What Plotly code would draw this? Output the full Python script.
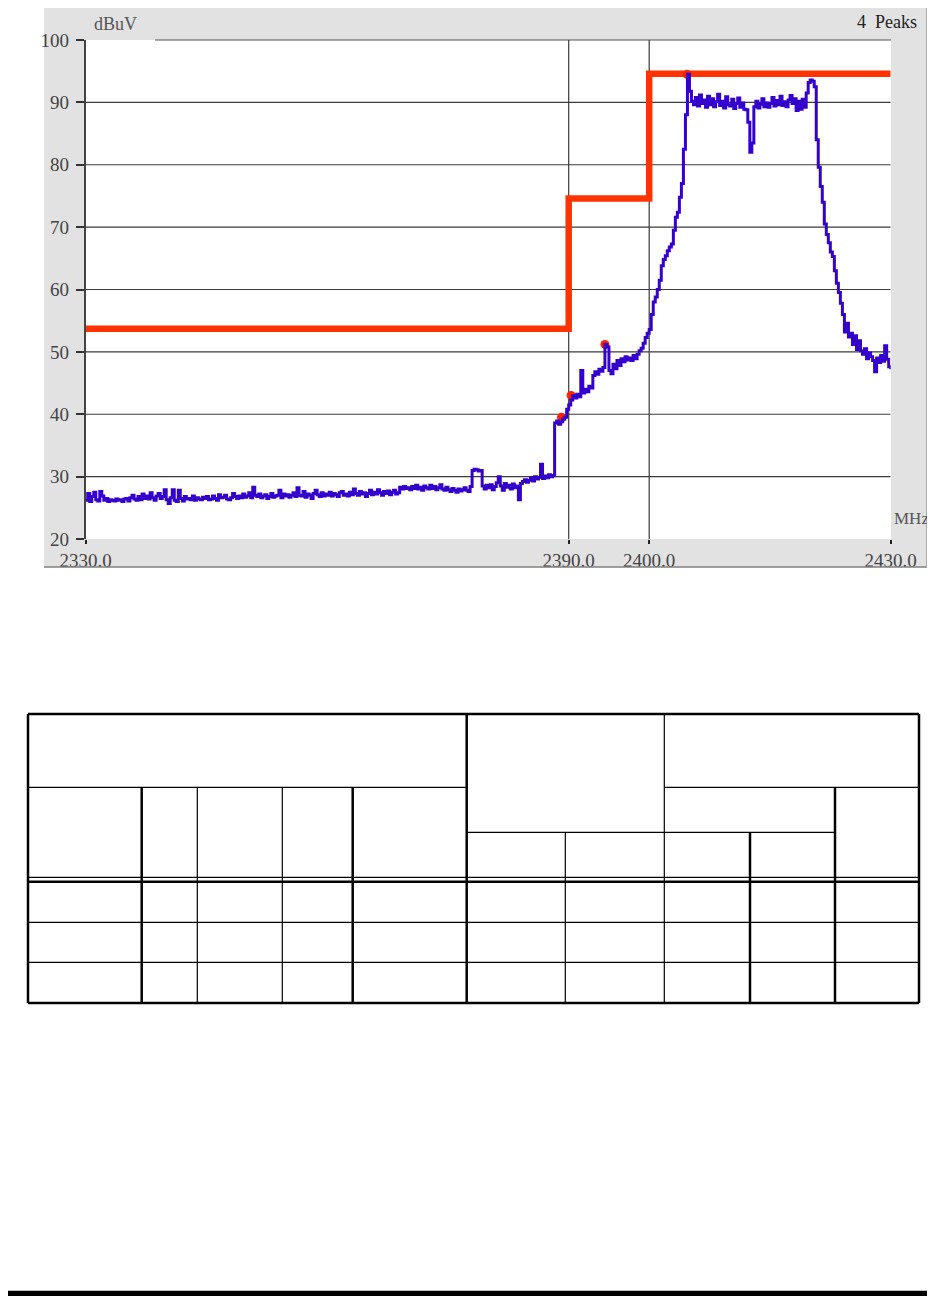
import plotly.graph_objects as go

# ---------------- data ----------------
FREQ_START = 2330.0
FREQ_STEP = 0.25

level_dbuv = [
    # 2330.00 - 2334.75
    26.2, 27.3, 26.0, 26.8, 27.5, 26.3, 26.1, 27.6, 26.9, 26.2, 26.5, 26.0, 26.3, 26.2, 26.1, 26.4, 26.2, 26.3, 26.0, 26.4,
    # 2335
    26.5, 26.1, 26.6, 27.0, 26.4, 26.2, 26.8, 26.3, 27.2, 26.5, 26.9, 26.4, 27.4, 26.6, 26.2, 26.9, 27.3, 26.5, 26.8, 27.9,
    # 2340
    26.3, 25.7, 26.6, 27.9, 26.2, 26.0, 27.8, 26.5, 26.1, 26.8, 26.4, 26.5, 26.3, 26.9, 26.2, 26.6, 26.4, 26.3, 26.7, 26.5,
    # 2345
    26.8, 26.3, 26.4, 26.9, 26.5, 26.2, 27.1, 26.6, 26.7, 27.0, 26.4, 26.3, 26.6, 27.3, 26.8, 26.5, 26.9, 26.6, 27.2, 26.7,
    # 2350
    26.9, 27.4, 26.6, 28.3, 27.0, 26.8, 27.2, 26.6, 26.9, 27.1, 26.5, 26.8, 27.3, 26.7, 26.9, 27.0, 27.8, 26.6, 27.2, 26.9,
    # 2355
    27.1, 26.7, 27.0, 27.4, 26.8, 28.2, 27.0, 26.9, 27.6, 26.7, 27.2, 27.0, 26.5, 27.3, 27.8, 27.1, 26.8, 27.4, 26.9, 27.2,
    # 2360
    27.0, 27.5, 26.9, 27.3, 27.1, 26.8, 27.4, 27.6, 27.0, 27.2, 26.9, 27.5, 27.1, 28.0, 27.3, 27.0, 27.6, 27.2, 27.4, 26.8,
    # 2365
    27.3, 27.8, 27.1, 27.5, 27.2, 27.9, 27.4, 27.0, 27.6, 27.3, 27.7, 27.1, 27.5, 27.8, 27.2, 27.4, 28.3, 28.0, 28.4, 28.1,
    # 2370
    28.2, 27.9, 28.4, 28.1, 28.6, 28.0, 28.3, 27.8, 28.5, 28.2, 28.0, 28.6, 28.1, 28.4, 27.9, 28.2, 28.7, 28.0, 27.8, 28.3,
    # 2375
    27.9, 27.6, 28.1, 27.8, 27.5, 28.0, 27.7, 27.9, 28.2, 27.8, 27.6, 28.4, 31.0, 31.2, 31.1, 30.9, 31.0, 28.5, 28.0, 28.6,
    # 2380
    28.2, 28.7, 27.9, 28.4, 29.0, 30.0, 28.5, 27.8, 28.9, 28.3, 28.6, 28.0, 28.8, 28.2, 28.5, 26.3, 28.9, 29.2, 29.5, 29.1,
    # 2385
    29.4, 29.8, 29.3, 30.0, 29.6, 29.9, 32.0, 29.7, 30.1, 29.8, 30.3, 30.0, 30.2, 38.6, 38.9, 38.4, 38.8, 39.2, 39.5, 40.8,
    # 2390
    41.5, 42.3, 43.0, 42.6, 43.2, 42.8, 47.0, 43.4, 44.0, 43.6, 44.5, 44.2, 46.2, 46.8, 46.4, 47.2, 46.9, 47.5, 51.2, 50.8,
    # 2395
    47.0, 46.5, 48.0, 47.3, 48.6, 47.8, 48.9, 48.4, 49.2, 48.7, 49.0, 48.6, 49.4, 48.9, 49.6, 50.2, 50.6, 51.4, 52.3, 53.0,
    # 2400
    53.6, 56.0, 58.0, 58.8, 60.0, 61.5, 63.8, 64.8, 65.4, 66.2, 66.8, 67.3, 69.5, 71.6, 72.4, 74.8, 77.0, 82.5, 88.0, 94.5,
    # 2405
    91.8, 90.2, 89.6, 90.8, 89.4, 91.2, 89.8, 90.4, 89.2, 91.0, 89.6, 90.6, 89.3, 90.1, 91.3, 89.5, 90.2, 89.1, 90.9, 89.6,
    # 2410
    89.4, 90.5, 89.0, 89.8, 90.7, 89.2, 89.9, 88.9, 88.8, 86.8, 82.0, 83.5, 89.3, 90.2, 89.1, 89.7, 90.6, 89.3, 89.9, 89.2,
    # 2415
    89.8, 90.8, 89.4, 90.3, 89.6, 91.0, 89.5, 90.1, 89.3, 90.4, 91.1, 89.8, 90.6, 88.7, 90.2, 88.9, 90.5, 89.2, 91.5, 93.2,
    # 2420
    93.6, 93.4, 92.5, 84.0, 79.6, 76.5, 74.0, 70.5, 68.8, 67.5, 66.0, 65.3, 63.0, 61.0, 59.5, 57.8, 56.0, 53.2, 54.6, 52.4,
    # 2425
    53.0, 51.2, 52.6, 50.4, 51.8, 50.2, 49.6, 50.5, 48.9, 49.8, 49.2, 48.6, 46.8, 49.0, 48.3, 49.4, 48.5, 51.0, 48.8, 47.6,
    # 2430
    47.2,
]
freq_mhz = [FREQ_START + i * FREQ_STEP for i in range(len(level_dbuv))]

limit_freq = [2330, 2390, 2400, 2430]
limit_dbuv = [53.7, 74.6, 94.6, 94.6]

peak_freq = [2389.1, 2390.3, 2394.5, 2404.7]
peak_dbuv = [39.5, 43.0, 51.2, 94.5]

y_ticks = [20, 30, 40, 50, 60, 70, 80, 90, 100]
x_ticks = [2330, 2390, 2400, 2430]
x_tick_text = ["2330.0", "2390.0", "2400.0", "2430.0"]
v_grid = [2390, 2400]

# ---------------- page geometry helpers ----------------
# the page body has an 8px margin: the figure starts 8px in, so every
# page position is shifted by that margin (figure overflows right/bottom).
PAGE_MARGIN = 8
W, H = 935, 1296


def px(x):
    return (x - PAGE_MARGIN) / W


def py(y):
    return 1 - (y - PAGE_MARGIN) / H


SERIF = "Liberation Serif, Times New Roman, serif"

fig = go.Figure()

fig.add_trace(go.Scatter(
    x=limit_freq, y=limit_dbuv, mode="lines", line_shape="hv",
    line=dict(color="#ff3300", width=6.5), hoverinfo="skip", showlegend=False))
fig.add_trace(go.Scatter(
    x=peak_freq, y=peak_dbuv, mode="markers",
    marker=dict(color="#ff2200", size=9), showlegend=False))
fig.add_trace(go.Scatter(
    x=freq_mhz, y=level_dbuv, mode="lines", line_shape="hv",
    line=dict(color="#3300cc", width=3), showlegend=False))

shapes = []
# grey instrument panel
shapes.append(dict(type="rect", xref="paper", yref="paper", layer="below",
                   x0=px(44), x1=px(927), y0=py(567), y1=py(8),
                   fillcolor="#e2e2e2", line=dict(width=0)))
# white plotting area
shapes.append(dict(type="rect", xref="paper", yref="paper", layer="below",
                   x0=px(85.7), x1=px(891), y0=py(539), y1=py(40),
                   fillcolor="white", line=dict(width=0)))
# panel border bottom/right
shapes.append(dict(type="line", xref="paper", yref="paper",
                   x0=px(44), x1=px(927), y0=py(567), y1=py(567),
                   line=dict(color="#808080", width=1.5)))
shapes.append(dict(type="line", xref="paper", yref="paper",
                   x0=px(927), x1=px(927), y0=py(567), y1=py(8),
                   line=dict(color="#9a9a9a", width=1.5)))
# top border of plot (partial)
shapes.append(dict(type="line", xref="paper", yref="paper", layer="below",
                   x0=px(155), x1=px(891), y0=py(40), y1=py(40),
                   line=dict(color="#555555", width=1.2)))
# horizontal gridlines
for v in y_ticks[1:-1]:
    shapes.append(dict(type="line", xref="x", yref="y", layer="below",
                       x0=limit_freq[0], x1=limit_freq[-1], y0=v, y1=v,
                       line=dict(color="#3a3a3a", width=1.2)))
# vertical gridlines
for f in v_grid:
    shapes.append(dict(type="line", xref="x", yref="y", layer="below",
                       x0=f, x1=f, y0=y_ticks[0], y1=y_ticks[-1],
                       line=dict(color="#3a3a3a", width=1.2)))

# ---------------- empty table below ----------------
def hline(y, x0, x1, w):
    shapes.append(dict(type="line", xref="paper", yref="paper",
                       x0=px(x0), x1=px(x1), y0=py(y), y1=py(y),
                       line=dict(color="black", width=w)))


def vline(x, y0, y1, w):
    shapes.append(dict(type="line", xref="paper", yref="paper",
                       x0=px(x), x1=px(x), y0=py(y0), y1=py(y1),
                       line=dict(color="black", width=w)))


L, R, T, B = 28, 919, 714, 1003
hline(T, L, R, 2.5)
hline(B, L, R, 2.5)
vline(L, T, B, 2.5)
vline(R, T, B, 2.5)
hline(787.3, L, 466.7, 1.2)
hline(787.3, 664.3, R, 1.2)
hline(832.3, 466.7, 835, 1.2)
hline(877.3, L, R, 1.2)
hline(881.7, L, R, 2.5)
hline(922.3, L, R, 1.2)
hline(962.3, L, R, 1.2)
vline(141.7, 787.3, B, 2.5)
vline(197.3, 787.3, B, 1.2)
vline(282.3, 787.3, B, 1.2)
vline(352.7, 787.3, B, 2.5)
vline(466.7, T, B, 2.5)
vline(565.3, 832.3, B, 1.2)
vline(664.3, T, B, 1.2)
vline(750, 832.3, B, 2.5)
vline(835, 787.3, B, 2.5)

# bottom black bar across the page
shapes.append(dict(type="rect", xref="paper", yref="paper",
                   x0=0, x1=1, y0=py(1296), y1=py(1290.7),
                   fillcolor="black", line=dict(width=0)))

annotations = [
    dict(text="dBuV", x=px(115), y=py(24), xref="paper", yref="paper",
         showarrow=False, xanchor="center", yanchor="middle",
         font=dict(family=SERIF, size=18, color="#555555")),
    dict(text="4\u00a0\u00a0Peaks", x=px(887), y=py(22), xref="paper", yref="paper",
         showarrow=False, xanchor="center", yanchor="middle",
         font=dict(family=SERIF, size=18, color="#222222")),
    dict(text="MHz", x=px(911), y=py(518), xref="paper", yref="paper",
         showarrow=False, xanchor="center", yanchor="middle",
         font=dict(family=SERIF, size=17, color="#555555")),
]

fig.update_layout(
    width=W, height=H, autosize=False,
    margin=dict(l=0, r=0, t=0, b=0, pad=0, autoexpand=False),
    paper_bgcolor="white", plot_bgcolor="rgba(0,0,0,0)",
    shapes=shapes, annotations=annotations, showlegend=False,
    xaxis=dict(domain=[px(85.7), px(890.7)], range=[2330, 2430],
               automargin=False,
               tickvals=x_ticks, ticktext=x_tick_text,
               ticks="outside", ticklen=4, tickwidth=2, tickcolor="#222222",
               showgrid=False, zeroline=False, showline=False,
               tickfont=dict(family=SERIF, size=19, color="#444444")),
    yaxis=dict(domain=[py(539), py(40)], range=[20, 100],
               automargin=False,
               tickvals=y_ticks, ticks="outside", ticklen=8, tickwidth=1.5,
               tickcolor="#333333", showgrid=False, zeroline=False,
               showline=True, linecolor="#444444", linewidth=1.6,
               ticklabelstandoff=3,
               tickfont=dict(family=SERIF, size=19, color="#444444")),
)

fig.write_html("out.html")
